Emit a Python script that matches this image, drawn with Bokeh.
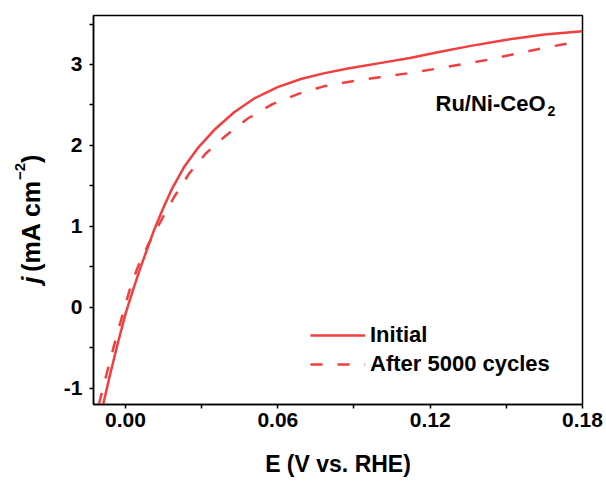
import math
from bokeh.plotting import figure
from bokeh.layouts import row
from bokeh.models import FixedTicker, Label
from bokeh.core.properties import value
from bokeh.embed import file_html
from bokeh.resources import INLINE

# ---- data ----
E_initial = [-0.0088, -0.0060, -0.0030, 0.0, 0.0030, 0.0060, 0.00855, 0.0112,
             0.0145, 0.0184, 0.0230, 0.0283, 0.0349, 0.0428, 0.0507, 0.0599,
             0.0691, 0.0780, 0.0876, 0.1007, 0.112, 0.123, 0.136, 0.149,
             0.165, 0.180]
j_initial = [-1.20, -0.82, -0.44, -0.08, 0.22, 0.50, 0.72, 0.95,
             1.20, 1.47, 1.73, 1.96, 2.19, 2.41, 2.58, 2.72,
             2.82, 2.89, 2.95, 3.02, 3.08, 3.15, 3.23, 3.30,
             3.37, 3.41]

E_cycled = [-0.0105, -0.0075, -0.0045, -0.0015, 0.0015, 0.0045, 0.0070, 0.0092,
            0.0138, 0.0191, 0.0250, 0.0316, 0.0395, 0.0480, 0.0579, 0.0684,
            0.078, 0.0888, 0.0995, 0.111, 0.123, 0.143, 0.164, 0.1776]
j_cycled = [-1.20, -0.83, -0.47, -0.13, 0.20, 0.47, 0.65, 0.79,
            1.06, 1.36, 1.65, 1.90, 2.12, 2.33, 2.51, 2.64,
            2.73, 2.79, 2.84, 2.89, 2.95, 3.06, 3.20, 3.28]

series_names = ["Initial", "After 5000 cycles"]

x_ticks = [0.0, 0.06, 0.12, 0.18]
x_tick_labels = ["0.00", "0.06", "0.12", "0.18"]
x_minor = [0.03, 0.09, 0.15]
y_ticks = [-1, 0, 1, 2, 3]
y_tick_labels = ["-1", "0", "1", "2", "3"]
y_minor = [-0.5, 0.5, 1.5, 2.5, 3.5]

x_title = "E (V vs. RHE)"
y_title_parts = ["j", "(mA cm", "\u22122", ")"]
sample_main = "Ru/Ni-CeO"
sample_sub = "2"

# ---- styling constants ----
FONT = "Liberation Sans"
RED = "#F23E3E"
X0, X1 = -0.0126, 0.18
Y0, Y1 = -1.2, 3.605
H = 481
LEFT_W = 50
TOP_B, BOT_B = 15, 77

# ---- main figure ----
p = figure(width=606 - LEFT_W, height=H, x_range=(X0, X1), y_range=(Y0, Y1),
           output_backend="svg", toolbar_location=None,
           min_border_left=93 - LEFT_W, min_border_right=24,
           min_border_top=TOP_B, min_border_bottom=BOT_B)
p.grid.visible = False
p.background_fill_color = "white"
p.border_fill_color = "white"
p.outline_line_color = "black"
p.outline_line_width = 1.5

p.line(E_initial, j_initial, line_color=RED, line_width=2.5,
       line_join="round", legend_label=series_names[0])
p.line(E_cycled, j_cycled, line_color=RED, line_width=2.5,
       line_dash="12 15", legend_label=series_names[1])

for ax in (p.xaxis[0], p.yaxis[0]):
    ax.axis_line_color = "black"
    ax.axis_line_width = 1.5
    ax.major_tick_line_color = "black"
    ax.minor_tick_line_color = "black"
    ax.major_tick_line_width = 1.5
    ax.minor_tick_line_width = 1.5
    ax.major_tick_in = 0
    ax.major_tick_out = 4
    ax.minor_tick_in = 0
    ax.minor_tick_out = 4
    ax.major_label_text_font = FONT
    ax.major_label_text_font_style = "bold"
    ax.major_label_text_font_size = "21px"
    ax.major_label_text_color = "black"

p.xaxis.ticker = FixedTicker(ticks=x_ticks, minor_ticks=x_minor)
p.yaxis.ticker = FixedTicker(ticks=y_ticks, minor_ticks=y_minor)
p.xaxis.major_label_overrides = {t: l for t, l in zip(x_ticks, x_tick_labels)}
p.yaxis.major_label_overrides = {t: l for t, l in zip(y_ticks, y_tick_labels)}
p.xaxis.major_label_standoff = 4
p.yaxis.major_label_standoff = 7

p.xaxis.axis_label = x_title
p.xaxis.axis_label_text_font = FONT
p.xaxis.axis_label_text_font_style = "bold"
p.xaxis.axis_label_text_font_size = "23px"
p.xaxis.axis_label_text_color = "black"
p.xaxis.axis_label_standoff = 21

# pixel -> data helpers for annotation placement inside the frame
FL, FR, FT, FB = 93, 582, TOP_B, H - BOT_B
def dx(px):
    return X0 + (px - FL) / (FR - FL) * (X1 - X0)
def dy(py):
    return Y1 - (py - FT) / (FB - FT) * (Y1 - Y0)

# ---- sample annotation ----
p.add_layout(Label(x=dx(435), y=dy(103), text=sample_main, text_font=FONT,
                   text_font_style="bold", text_font_size="22px", text_color="black",
                   text_align="left", text_baseline="alphabetic"))
p.add_layout(Label(x=dx(547), y=dy(110), text=sample_sub, text_font=FONT,
                   text_font_style="bold", text_font_size="14px", text_color="black",
                   text_align="left", text_baseline="alphabetic"))

# ---- legend ----
lg = p.legend[0]
lg.location = (217, 26)
lg.margin = 0
lg.padding = 0
lg.spacing = 1
lg.glyph_width = 55
lg.glyph_height = 28
lg.label_height = 28
lg.label_standoff = 5
lg.label_text_font = FONT
lg.label_text_font_style = "bold"
lg.label_text_font_size = "22px"
lg.label_text_color = "black"
lg.border_line_color = None
lg.background_fill_alpha = 0

# ---- left strip carrying the rotated y-axis title ----
# same vertical borders and range as the main plot, so its frame lines up
q = figure(width=LEFT_W, height=H, x_range=(0, LEFT_W), y_range=(Y0, Y1),
           output_backend="svg", toolbar_location=None,
           x_axis_type=None, y_axis_type=None,
           min_border_left=0, min_border_right=0,
           min_border_top=TOP_B, min_border_bottom=BOT_B)
q.grid.visible = False
q.outline_line_color = None
q.background_fill_color = "white"
q.border_fill_color = "white"

ys = 25.0
base_x = 30
start_py = 283
sizes = [ys, ys, 15, ys]
styles = ["bold italic", "bold", "bold", "bold"]
offsets = [0, 0, -11, 0]
advances = [0.47 * ys, 3.667 * ys, 1.14 * 15, 0]
py = start_py
for txt, size, style, off, adv in zip(y_title_parts, sizes, styles, offsets, advances):
    q.text(x=[base_x + off], y=[dy(py)], text=[txt], angle=math.pi / 2,
           text_font=value(FONT), text_font_style=style,
           text_font_size=f"{size}px", text_color="black",
           text_align="left", text_baseline="alphabetic")
    py -= adv

layout = row(q, p, spacing=0)
open("out.html", "w").write(file_html(layout, INLINE))
